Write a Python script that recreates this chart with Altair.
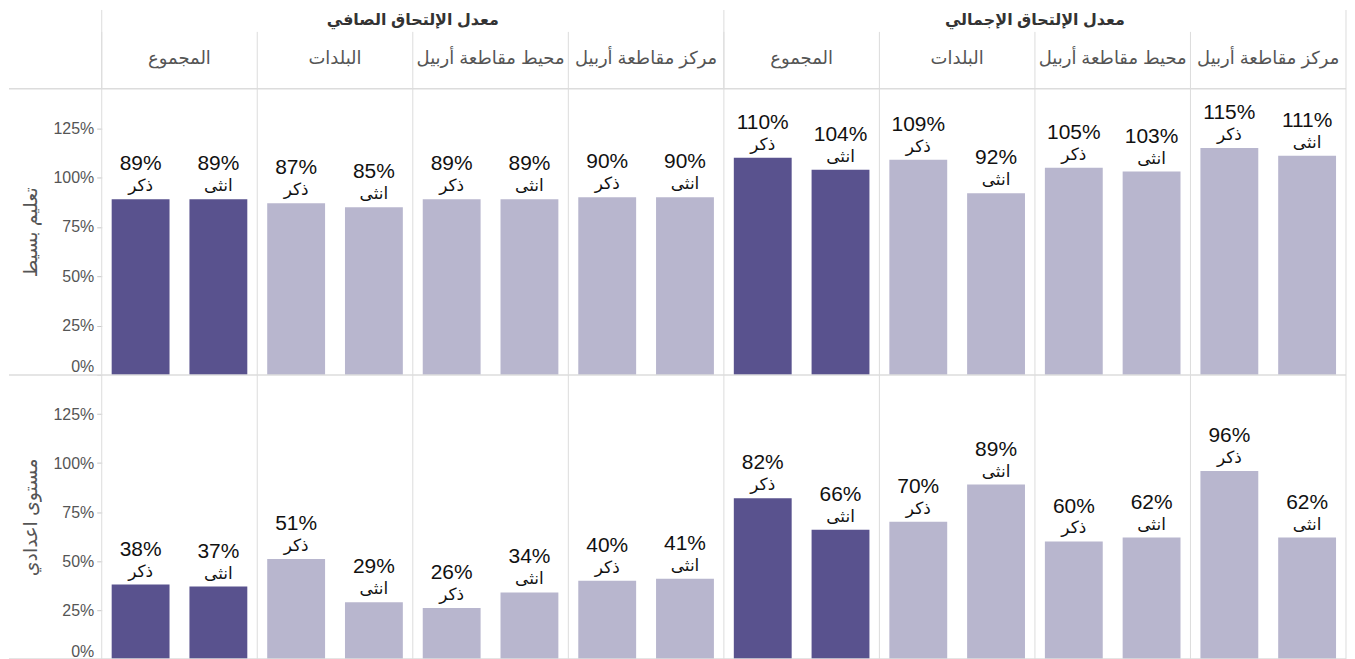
import altair as alt
import pandas as pd

groups = ["معدل الإلتحاق الصافي", "معدل الإلتحاق الإجمالي"]
regions = ["المجموع", "البلدات", "محيط مقاطعة أربيل", "مركز مقاطعة أربيل"]
genders = ["ذكر", "انثى"]
levels = ["تعليم بسيط", "مستوى اعدادي"]

# values [ذكر, انثى] per region, in region order
basic_net = [[89, 89], [87, 85], [89, 89], [90, 90]]
basic_gross = [[110, 104], [109, 92], [105, 103], [115, 111]]
prep_net = [[38, 37], [51, 29], [26, 34], [40, 41]]
prep_gross = [[82, 66], [70, 89], [60, 62], [96, 62]]

level_values = [[basic_net, basic_gross], [prep_net, prep_gross]]

FONT = "Liberation Sans, Arial, DejaVu Sans, sans-serif"
DARK = "#59528e"
LIGHT = "#b8b6ce"
SEP = "#dcdcdc"
PANEL_W = 156
W = PANEL_W * 8
HDR_H = 79
ROW_H = [287, 285]
LEFT = 93

panel_keys = [f"{gi}-{ri}" for gi in range(len(groups)) for ri in range(len(regions))]

xscale = alt.Scale(domain=panel_keys, paddingInner=0, paddingOuter=0)
offscale = alt.Scale(domain=genders, paddingInner=0.256, paddingOuter=0.128)


def level_df(li):
    rows = []
    for gi, g in enumerate(groups):
        for ri, r in enumerate(regions):
            for si, s in enumerate(genders):
                v = level_values[li][gi][ri][si]
                rows.append({"panel": f"{gi}-{ri}", "group": g, "region": r,
                             "gender": s, "value": v, "label": f"{v}%",
                             "total": ri == 0})
    return pd.DataFrame(rows)


panels_df = pd.DataFrame([{"panel": f"{gi}-{ri}", "region": r, "group": g, "ri": ri}
                          for gi, g in enumerate(groups) for ri, r in enumerate(regions)])
group_start_df = panels_df[panels_df["ri"] == 0]
group_center_df = panels_df[panels_df["ri"] == 1]


def row_chart(li):
    df = level_df(li)
    H = ROW_H[li]
    X = alt.X("panel:N", scale=xscale, axis=None)
    XO = alt.XOffset("gender:N", scale=offscale)
    Y = alt.Y("value:Q", scale=alt.Scale(domain=[0, 145], nice=False),
              axis=alt.Axis(values=[0, 25, 50, 75, 100, 125], labelExpr="datum.value + '%'",
                            title=levels[li], grid=False, domain=False,
                            tickColor="#c8c8c8", tickSize=5, labelPadding=3,
                            labelFlush=True,
                            labelFontSize=16, labelColor="#555", labelFont=FONT,
                            titleFontSize=19, titleColor="#555", titleFont=FONT,
                            titleFontWeight="normal", titlePadding=12))
    base = alt.Chart(df)
    seps = alt.Chart(panels_df).mark_rule(color=SEP, strokeWidth=1).encode(
        x=alt.X("panel:N", scale=xscale, axis=None, bandPosition=0))
    right = alt.Chart(panels_df.head(1)).mark_rule(color=SEP, strokeWidth=1).encode(
        x=alt.value(W))
    bottom = alt.Chart(panels_df.head(1)).mark_rule(color=SEP, strokeWidth=1.5).encode(
        x=alt.value(-LEFT), x2=alt.value(W), y=alt.value(H))
    bars = base.mark_bar().encode(
        x=X, xOffset=XO, y=Y,
        color=alt.condition(alt.datum.total, alt.value(DARK), alt.value(LIGHT)))
    pct = base.mark_text(baseline="bottom", dy=-25, fontSize=21, color="#111", font=FONT).encode(
        x=X, xOffset=XO, y=alt.Y("value:Q"), text="label:N")
    gen = base.mark_text(baseline="bottom", dy=-4, fontSize=17, color="#111", font=FONT).encode(
        x=X, xOffset=XO, y=alt.Y("value:Q"), text="gender:N")
    return alt.layer(seps, right, bars, pct, gen, bottom).properties(width=W, height=H)


# header
hx = alt.X("panel:N", scale=xscale, axis=None)
h_seps = alt.Chart(panels_df).mark_rule(color=SEP, strokeWidth=1).encode(
    x=alt.X("panel:N", scale=xscale, axis=None, bandPosition=0),
    y=alt.value(22), y2=alt.value(HDR_H))
h_gseps = alt.Chart(group_start_df).mark_rule(color=SEP, strokeWidth=1).encode(
    x=alt.X("panel:N", scale=xscale, axis=None, bandPosition=0),
    y=alt.value(0), y2=alt.value(HDR_H))
h_right = alt.Chart(panels_df.head(1)).mark_rule(color=SEP, strokeWidth=1).encode(
    x=alt.value(W), y=alt.value(0), y2=alt.value(HDR_H))
h_bottom = alt.Chart(panels_df.head(1)).mark_rule(color=SEP, strokeWidth=1.5).encode(
    x=alt.value(-LEFT), x2=alt.value(W), y=alt.value(HDR_H))
h_regions = alt.Chart(panels_df).mark_text(fontSize=18, color="#555", font=FONT, baseline="middle").encode(
    x=hx, y=alt.value(49), text="region:N")
h_groups = alt.Chart(group_center_df).mark_text(fontSize=16, fontWeight="bold", color="#333",
                                                font=FONT, baseline="middle").encode(
    x=alt.X("panel:N", scale=xscale, axis=None, bandPosition=1), y=alt.value(10), text="group:N")
header = alt.layer(h_seps, h_gseps, h_right, h_bottom, h_regions, h_groups).properties(width=W, height=HDR_H)

chart = alt.vconcat(header, row_chart(0), row_chart(1), spacing=0, bounds="flush").properties(
    padding=0
).configure(font=FONT).configure_view(stroke=None, strokeWidth=0)

chart.save("out.html", embed_options={"renderer": "svg", "actions": False})
